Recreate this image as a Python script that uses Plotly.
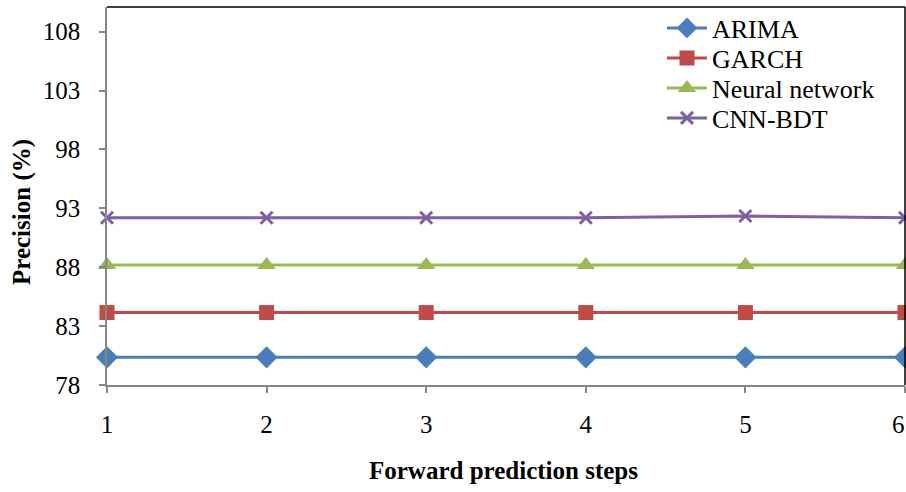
import plotly.graph_objects as go

steps = [1, 2, 3, 4, 5, 6]
arima = [80.35, 80.35, 80.35, 80.35, 80.35, 80.35]
garch = [84.15, 84.15, 84.15, 84.15, 84.15, 84.15]
neural = [88.2, 88.2, 88.2, 88.2, 88.2, 88.2]
cnn_bdt = [92.2, 92.2, 92.2, 92.2, 92.35, 92.2]
y_ticks = [78, 83, 88, 93, 98, 103, 108]

series = [
    ("ARIMA", arima, "#4A7EBB", "diamond", 17),
    ("GARCH", garch, "#BE4B48", "square", 15),
    ("Neural network", neural, "#98B954", "triangle-up", 16),
    ("CNN-BDT", cnn_bdt, "#7D60A0", "x-thin", 12),
]

font = "Liberation Serif, Times New Roman, serif"
FS = 25
W, H = 906, 492
L, R, T, B = 107, 1, 7, 107
pw = W - L - R
ph = H - T - B

legend_names = ["legend", "legend2", "legend3", "legend4"]
legend_y_px = [28, 58, 88, 118]

fig = go.Figure()
for (name, vals, col, sym, sz), lg in zip(series, legend_names):
    fig.add_trace(go.Scatter(
        x=steps, y=vals, name=name, mode="lines+markers",
        line=dict(color=col, width=3),
        marker=dict(symbol=sym, size=sz, color=col,
                    line=dict(color=col, width=3 if sym == "x-thin" else 0)),
        cliponaxis=False, legend=lg,
    ))

legend_layout = {}
for lg, ypx in zip(legend_names, legend_y_px):
    legend_layout[lg] = dict(
        x=(662 - L) / pw, y=(385 - ypx) / ph, xanchor="left", yanchor="middle",
        bgcolor="rgba(0,0,0,0)", font=dict(size=26, family=font),
        itemwidth=40,
    )

fig.update_layout(
    width=W, height=H,
    margin=dict(l=L, r=R, t=T, b=B, autoexpand=False),
    paper_bgcolor="white", plot_bgcolor="white",
    font=dict(family=font, size=FS, color="black"),
    showlegend=True,
    xaxis=dict(range=[1, 6], tickvals=steps, showgrid=False, zeroline=False,
               showline=True, linecolor="#868686", linewidth=1.5,
               ticks="outside", ticklen=6, tickcolor="#868686", tickwidth=1.5,
               ticklabelstandoff=10, tickfont=dict(size=FS, family=font)),
    yaxis=dict(range=[78, 110.1], tickvals=y_ticks, showgrid=False, zeroline=False,
               showline=True, linecolor="#868686", linewidth=1.5,
               ticks="outside", ticklen=6, tickcolor="#868686", tickwidth=1.5,
               ticklabelstandoff=14, tickfont=dict(size=FS, family=font)),
    shapes=[
        dict(type="line", xref="paper", yref="paper", x0=0, x1=1, y0=1, y1=1,
             line=dict(color="black", width=1.5)),
        dict(type="line", xref="paper", yref="paper", x0=1, x1=1, y0=0, y1=1,
             line=dict(color="black", width=1.5)),
    ],
    annotations=[
        dict(text="<b>Precision (%)</b>", xref="paper", yref="paper",
             x=(22 - L) / pw, y=(385 - 212) / ph, xanchor="center", yanchor="middle",
             textangle=-90, showarrow=False, font=dict(size=FS, family=font)),
        dict(text="<b>Forward prediction steps</b>", xref="paper", yref="paper",
             x=(503 - L) / pw, y=(385 - 470) / ph, xanchor="center", yanchor="middle",
             showarrow=False, font=dict(size=FS, family=font)),
        # last tick label, kept just inside the right edge
        dict(text=str(steps[-1]), xref="x", yref="paper", x=steps[-1],
             y=(385 - 424) / ph, xanchor="right", yanchor="middle", xshift=2,
             showarrow=False, font=dict(size=FS, family=font)),
    ],
    **legend_layout,
)

fig.write_html("out.html", post_script="document.body.style.margin='0';",
               config={"displayModeBar": False})
